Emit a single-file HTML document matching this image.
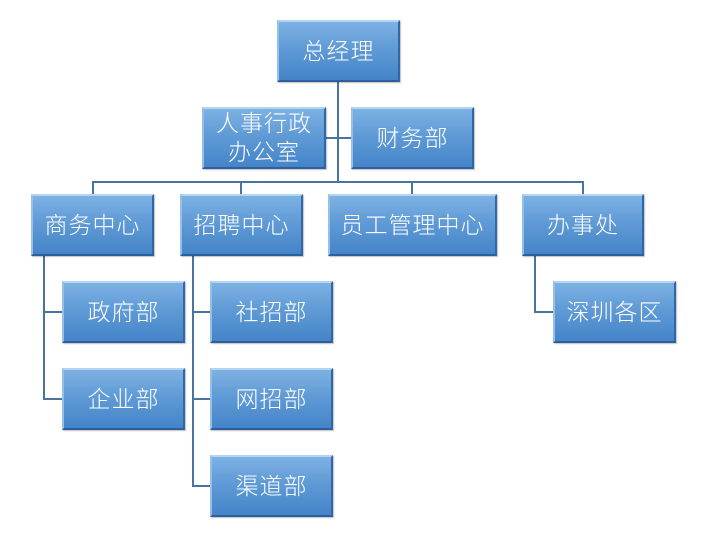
<!DOCTYPE html>
<html><head><meta charset="utf-8"><style>
html,body{margin:0;padding:0;background:#fff;width:708px;height:538px;overflow:hidden;position:relative}
.b{position:absolute;box-sizing:border-box;background:linear-gradient(#7db1e3 0%,#609bd6 45%,#4484c8 100%);
border-top:2px solid #b3d4f2;border-left:2px solid #94c0ea;border-right:2px solid #2f67a8;border-bottom:2px solid #2d5f9c;
color:#fff;font-family:"Liberation Sans","Noto Sans CJK SC",sans-serif;font-weight:300;font-size:23px;letter-spacing:1px;display:flex;align-items:center;justify-content:center;text-align:center;line-height:29px;
box-shadow:1px 1px 1px rgba(0,0,0,.25)}
.l{position:absolute;background:#4a73a0}
</style></head><body>
<div class="l" style="left:337px;top:82px;width:2px;height:101px"></div>
<div class="l" style="left:326px;top:137px;width:25px;height:2px"></div>
<div class="l" style="left:92px;top:181px;width:492px;height:2px"></div>
<div class="l" style="left:92px;top:181px;width:2px;height:14px"></div>
<div class="l" style="left:240px;top:181px;width:2px;height:14px"></div>
<div class="l" style="left:411px;top:181px;width:2px;height:14px"></div>
<div class="l" style="left:582px;top:181px;width:2px;height:14px"></div>
<div class="l" style="left:43px;top:256px;width:2px;height:144px"></div>
<div class="l" style="left:43px;top:311px;width:20px;height:2px"></div>
<div class="l" style="left:43px;top:398px;width:20px;height:2px"></div>
<div class="l" style="left:192px;top:256px;width:2px;height:231px"></div>
<div class="l" style="left:192px;top:311px;width:19px;height:2px"></div>
<div class="l" style="left:192px;top:398px;width:19px;height:2px"></div>
<div class="l" style="left:192px;top:485px;width:19px;height:2px"></div>
<div class="l" style="left:534px;top:256px;width:2px;height:57px"></div>
<div class="l" style="left:534px;top:311px;width:20px;height:2px"></div>

<div class="b" style="left:277px;top:20px;width:123px;height:62px">总经理</div>
<div class="b" style="left:202px;top:107px;width:124px;height:62px">人事行政<br>办公室</div>
<div class="b" style="left:351px;top:107px;width:123px;height:62px">财务部</div>
<div class="b" style="left:31px;top:194px;width:123px;height:62px">商务中心</div>
<div class="b" style="left:180px;top:194px;width:123px;height:62px">招聘中心</div>
<div class="b" style="left:328px;top:194px;width:169px;height:62px">员工管理中心</div>
<div class="b" style="left:522px;top:194px;width:122px;height:62px">办事处</div>
<div class="b" style="left:62px;top:281px;width:123px;height:62px">政府部</div>
<div class="b" style="left:62px;top:368px;width:123px;height:62px">企业部</div>
<div class="b" style="left:210px;top:281px;width:123px;height:62px">社招部</div>
<div class="b" style="left:210px;top:368px;width:123px;height:62px">网招部</div>
<div class="b" style="left:210px;top:455px;width:123px;height:62px">渠道部</div>
<div class="b" style="left:553px;top:281px;width:123px;height:62px">深圳各区</div>
</body></html>
